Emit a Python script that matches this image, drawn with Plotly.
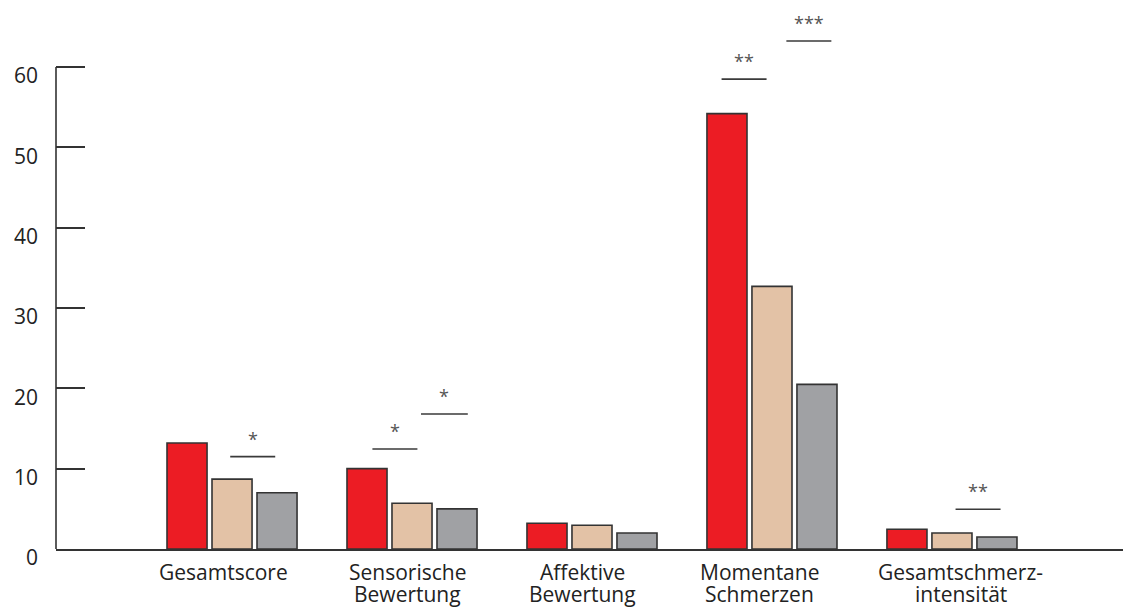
import plotly.graph_objects as go

# ---- data ----
categories = ["Gesamtscore", "Sensorische\nBewertung", "Affektive\nBewertung",
              "Momentane\nSchmerzen", "Gesamtschmerz-\nintensität"]
series_a = [13.2, 10.0, 3.2, 54.2, 2.45]
series_b = [8.7, 5.7, 2.95, 32.7, 2.0]
series_c = [7.0, 5.0, 2.0, 20.5, 1.5]
y_ticks = [0, 10, 20, 30, 40, 50, 60]

# significance bars (category-axis units, value units)
sig_x0 = [-0.01, 0.78, 1.05, 2.72, 3.08, 4.02]
sig_x1 = [0.24, 1.03, 1.31, 2.97, 3.33, 4.27]
sig_y = [11.5, 12.45, 16.8, 58.5, 63.25, 4.95]
sig_text = ["*", "*", "*", "**", "***", "**"]

# ---- styles ----
colors = ["#EC1C24", "#E3C2A6", "#A0A1A4"]
outline = "#333333"
label_xshift = [-9, -5, -9, -12, 9]
FONT = "Open Sans"

x_idx = list(range(len(categories)))

fig = go.Figure()
for vals, col, nm in zip([series_a, series_b, series_c], colors, ["A", "B", "C"]):
    fig.add_trace(go.Bar(
        x=x_idx, y=vals, name=nm,
        marker=dict(color=col, line=dict(color=outline, width=1.6)),
        showlegend=False, hoverinfo="y",
    ))

shapes = []
annotations = []

# y axis line (0..60 only)
shapes.append(dict(type="line", xref="paper", yref="y", x0=0, x1=0,
                   y0=0, y1=y_ticks[-1], line=dict(color=outline, width=1.6)))
# small end tick on the right of the x axis
shapes.append(dict(type="line", xref="paper", yref="y", x0=1, x1=1,
                   y0=0, y1=1.6, line=dict(color=outline, width=1.6)))

for x0, x1, y, t in zip(sig_x0, sig_x1, sig_y, sig_text):
    shapes.append(dict(type="line", xref="x", yref="y", x0=x0, x1=x1, y0=y, y1=y,
                       line=dict(color="#3a3a3a", width=1.6)))
    annotations.append(dict(x=(x0 + x1) / 2, y=y, xref="x", yref="y", text=t,
                            showarrow=False, yanchor="bottom", yshift=4,
                            font=dict(family=FONT, size=18, color="#555555")))

for i, (cat, xs) in enumerate(zip(categories, label_xshift)):
    for j, line in enumerate(cat.split("\n")):
        annotations.append(dict(x=i, y=0, xref="x", yref="paper", text=line,
                                showarrow=False, yanchor="middle",
                                xshift=xs, yshift=-23 - 22 * j,
                                font=dict(family=FONT, size=21, color="#222222")))

# the page body adds an 8px offset, so the figure is 8px smaller than the window
fig.update_layout(
    width=1123, height=599,
    margin=dict(l=48, r=5, t=0, b=58, autoexpand=False),
    paper_bgcolor="white", plot_bgcolor="white",
    barmode="group", bargap=0.25, bargroupgap=0.11,
    shapes=shapes, annotations=annotations,
    font=dict(family=FONT, size=21, color="#222222"),
    xaxis=dict(range=[-0.978, 4.967], showline=True, linecolor=outline, linewidth=1.6,
               showticklabels=False, ticks="", showgrid=False, zeroline=False,
               automargin=False, fixedrange=True),
    yaxis=dict(range=[0, 67.35], tickvals=y_ticks, ticktext=[str(v) for v in y_ticks],
               ticks="inside", ticklen=29, tickwidth=1.6, tickcolor=outline,
               showline=False, showgrid=False, zeroline=False,
               ticklabelstandoff=17, ticklabelshift=9, automargin=False,
               tickfont=dict(family=FONT, size=21, color="#222222"),
               fixedrange=True),
)

fig.write_html("out.html")
